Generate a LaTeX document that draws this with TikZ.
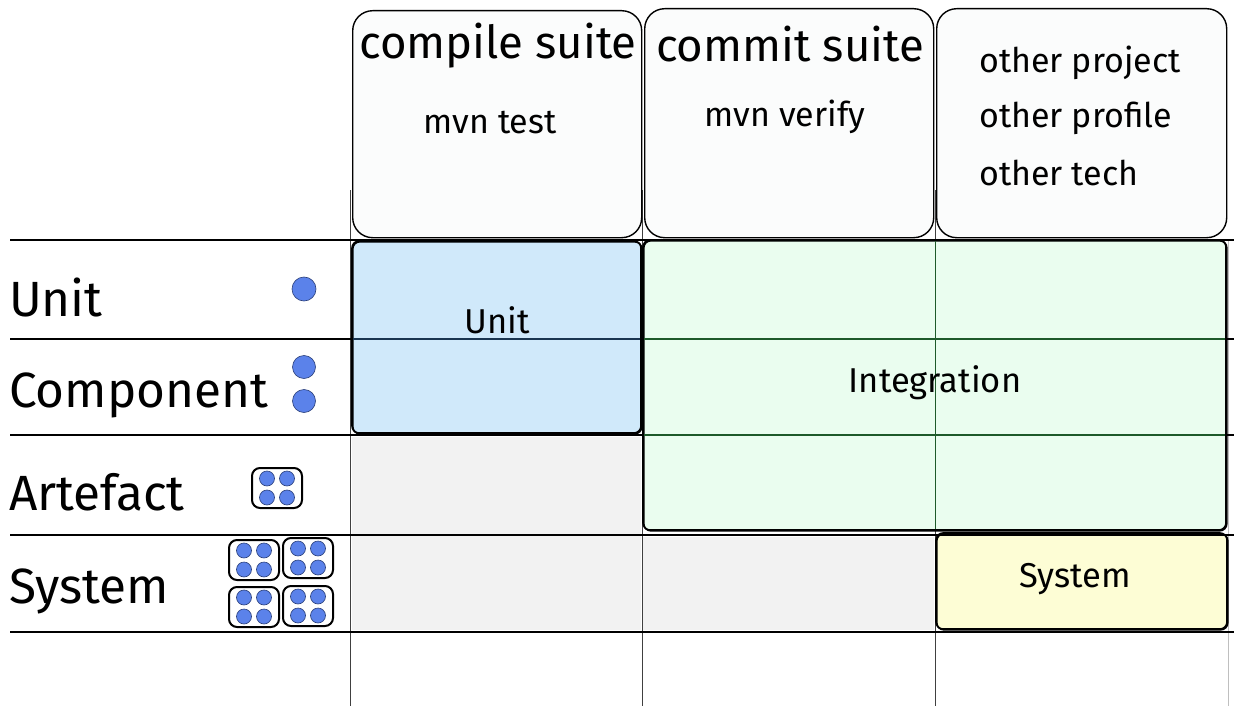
\documentclass[tikz,border=0pt]{standalone}
\usepackage{fontspec}
\setmainfont{Fira Sans}
\definecolor{dotblue}{HTML}{5B82EA}
\definecolor{dotedge}{HTML}{2A3F7A}
\definecolor{unitfill}{HTML}{D0E9FA}
\definecolor{intfill}{HTML}{EAFDEF}
\definecolor{sysfill}{HTML}{FDFDD5}
\definecolor{grayfill}{HTML}{F2F2F2}
\definecolor{headfill}{HTML}{FBFCFC}
\definecolor{intline}{HTML}{1E5A2A}
\definecolor{unitline}{HTML}{1A3550}
\newcommand{\bigfont}{\fontsize{49.5}{52}\selectfont}
\newcommand{\headfont}{\fontsize{45.5}{48}\selectfont}
\newcommand{\midfont}{\fontsize{34}{38}\selectfont}
\newcommand{\smallfont}{\fontsize{34.5}{38}\selectfont}
\newcommand{\dotpack}[2]{%
  \draw[packbox] (#1-25,#2-20) rectangle (#1+25,#2+20);
  \fill[dotstyle] (#1-10,#2-9.5) circle (7.5);
  \fill[dotstyle] (#1+10,#2-9.5) circle (7.5);
  \fill[dotstyle] (#1-10,#2+9.5) circle (7.5);
  \fill[dotstyle] (#1+10,#2+9.5) circle (7.5);
}
\begin{document}
\begin{tikzpicture}[x=1pt,y=-1pt,
  gridline/.style={line width=1.6pt, black},
  vline/.style={line width=0.8pt, black!75},
  headbox/.style={draw, line width=1.4pt, rounded corners=20pt, fill=headfill, anchor=north west, inner sep=0pt},
  cellbox/.style={draw, line width=1.6pt, rounded corners=7pt, anchor=north west, inner sep=0pt},
  dotstyle/.style={fill=dotblue, draw=dotedge, line width=0.6pt},
  packbox/.style={draw, line width=2pt, rounded corners=8pt, fill=white},
  rowlabel/.style={anchor=west, inner sep=0pt, font=\bigfont},
]
\useasboundingbox (0,0) rectangle (1234,706);
\fill[white] (0,0) rectangle (1234,706);

% gray fills
\fill[grayfill] (352,437) rectangle (641,630);
\fill[grayfill] (643,537) rectangle (934,630);

% vertical lines
\draw[vline] (350,190) -- (350,706);
\draw[vline] (642,190) -- (642,706);
\draw[vline] (935,190) -- (935,706);
\draw[line width=0.8pt, black!25] (1228,240) -- (1228,706);

% header boxes
\node[headbox, minimum width=289pt, minimum height=227pt] (compile) at (352,10) {};
\node[headbox, minimum width=289pt, minimum height=229pt] (commit) at (644,8) {};
\node[headbox, minimum width=290pt, minimum height=229pt] (other) at (936,8) {};

% cell boxes
\node[cellbox, fill=unitfill, minimum width=289pt, minimum height=192pt] (unitbox) at (352,241) {};
\node[cellbox, fill=intfill, minimum width=583pt, minimum height=290pt] (intbox) at (643,240) {};
\node[cellbox, fill=sysfill, minimum width=291pt, minimum height=96pt] (sysbox) at (936,533) {};

% horizontal lines
\foreach \yy in {240,339,435,535,632}{
  \draw[gridline] (10,\yy) -- (1234,\yy);
}
% tinted segments inside boxes
\draw[line width=1.6pt, intline] (644,339) -- (1225,339);
\draw[line width=1.6pt, intline] (644,435) -- (1225,435);
\draw[line width=0.8pt, intline] (935,241) -- (935,529);
\draw[line width=1.6pt, unitline] (353,339) -- (640,339);
% redraw borders on top
\draw[line width=1.6pt, rounded corners=7pt] (352,241) rectangle (641,433);
\draw[line width=1.6pt, rounded corners=7pt] (643,240) rectangle (1226,530);
\draw[line width=1.6pt, rounded corners=7pt] (936,533) rectangle (1227,629);

% header texts
\node[font=\headfont, inner sep=0pt] (compileT) at (498,46) {compile suite};
\node[font=\midfont, inner sep=0pt] (mvntest) at (490,123) {mvn test};
\node[font=\headfont, inner sep=0pt] (commitT) at (790,44) {commit suite};
\node[font=\midfont, inner sep=0pt] (mvnverify) at (785,117) {mvn verify};
\node[font=\midfont, inner sep=0pt, anchor=west] (op1) at (979,63) {other project};
\node[font=\midfont, inner sep=0pt, anchor=west] (op2) at (979,118) {other profile};
\node[font=\midfont, inner sep=0pt, anchor=west] (op3) at (979,173) {other tech};

% cell texts
\node[font=\smallfont, inner sep=0pt] (unitT) at (497,320) {Unit};
\node[font=\smallfont, inner sep=0pt] (intT) at (935,383) {Integration};
\node[font=\smallfont, inner sep=0pt] (sysT) at (1075,579) {System};

% row labels
\node[rowlabel] (rUnit) at (9,297) {Unit};
\node[rowlabel] (rComp) at (9,395) {Component};
\node[rowlabel] (rArt) at (9,492) {Artefact};
\node[rowlabel] (rSys) at (9,591) {System};

% icons
\draw[dotstyle] (304,289) circle (12);
\draw[dotstyle] (304,367) circle (11.5);
\draw[dotstyle] (304,401) circle (11.5);
\dotpack{277}{488}
\dotpack{254}{560}
\dotpack{308}{558}
\dotpack{254}{607}
\dotpack{308}{606}
\end{tikzpicture}
\end{document}
